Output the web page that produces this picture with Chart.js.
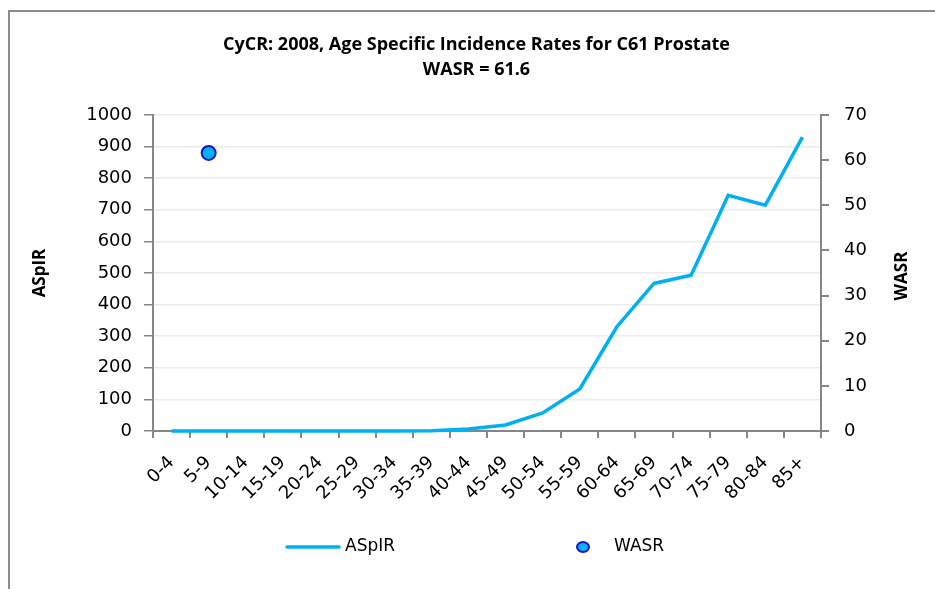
<!DOCTYPE html>
<html>
<head>
<meta charset="utf-8">
<script src="https://cdn.jsdelivr.net/npm/chart.js@4"></script>
<style>
    html, body { margin: 0; padding: 0; background: #fff; }
    #wrap { width: 935px; height: 589px; }
</style>
</head>
<body>
<div id="wrap"><canvas id="chart" width="935" height="589"></canvas></div>
<script>
// Data
const ageGroups = ['0-4', '5-9', '10-14', '15-19', '20-24', '25-29', '30-34', '35-39', '40-44',
    '45-49', '50-54', '55-59', '60-64', '65-69', '70-74', '75-79', '80-84', '85+'];
const aspirValues = [0, 0, 0, 0, 0, 0, 0, 0.5, 6, 19, 57, 133, 330, 467, 493, 746, 715, 930];
const wasrValue = 61.6;
const wasrGroup = '5-9';
const titleLines = ['CyCR: 2008, Age Specific Incidence Rates for C61 Prostate', 'WASR = ' + wasrValue];

const AXIS_GREY = '#868686';
const LINE_BLUE = '#00b0f0';
const POINT_EDGE = '#1515c8';

const tickFont = { family: 'DejaVu Sans', size: 18 };
const xTickFont = { family: 'DejaVu Sans', size: 18 };
const boldFont = { family: 'Open Sans', size: 17, weight: 'bold' };

// frame, custom legend and the right-hand axis title (reads bottom-to-top)
const decorations = {
    id: 'decorations',
    beforeDraw(chart) {
        const ctx = chart.ctx;
        ctx.save();
        ctx.strokeStyle = '#8c8c8c';
        ctx.lineWidth = 2;
        ctx.beginPath();
        ctx.moveTo(9, 600);
        ctx.lineTo(9, 11);
        ctx.lineTo(940, 11);
        ctx.stroke();
        ctx.restore();
    },
    afterDraw(chart) {
        const ctx = chart.ctx;
        const ds = chart.data.datasets;
        ctx.save();
        ctx.font = '17px "DejaVu Sans"';
        ctx.fillStyle = '#000';
        ctx.textBaseline = 'middle';

        const ly = 547;
        ctx.strokeStyle = ds[0].borderColor;
        ctx.lineWidth = 3.5;
        ctx.lineCap = 'round';
        ctx.beginPath();
        ctx.moveTo(287, ly);
        ctx.lineTo(339, ly);
        ctx.stroke();
        ctx.fillText(ds[0].label, 345, ly);

        ctx.beginPath();
        ctx.ellipse(583, ly, 6, 5, 0, 0, Math.PI * 2);
        ctx.fillStyle = ds[1].backgroundColor;
        ctx.fill();
        ctx.lineWidth = 2;
        ctx.strokeStyle = ds[1].borderColor;
        ctx.stroke();
        ctx.fillStyle = '#000';
        ctx.fillText(ds[1].label, 614, ly);

        ctx.translate(902, 276);
        ctx.rotate(-Math.PI / 2);
        ctx.font = 'bold 17px "Open Sans"';
        ctx.textAlign = 'center';
        ctx.fillText('WASR', 0, 0);
        ctx.restore();
    }
};

const plain = v => String(v);

new Chart(document.getElementById('chart'), {
    type: 'line',
    data: {
        labels: ageGroups,
        datasets: [
            {
                label: 'ASpIR',
                data: aspirValues,
                yAxisID: 'y',
                borderColor: LINE_BLUE,
                borderWidth: 3.5,
                pointRadius: 0,
                tension: 0,
                clip: 6
            },
            {
                label: 'WASR',
                data: [{ x: wasrGroup, y: wasrValue }],
                yAxisID: 'y2',
                showLine: false,
                backgroundColor: LINE_BLUE,
                borderColor: POINT_EDGE,
                pointRadius: 7,
                pointBorderWidth: 2,
                clip: false
            }
        ]
    },
    options: {
        responsive: false,
        animation: false,
        layout: { padding: { left: 18 } },
        plugins: {
            legend: { display: false },
            tooltip: { enabled: false },
            title: {
                display: true,
                text: titleLines,
                color: '#000',
                font: { family: 'Open Sans', size: 18, weight: 'bold', lineHeight: 1.39 },
                padding: { top: 32, bottom: 33 }
            }
        },
        scales: {
            x: {
                offset: true,
                grid: { offset: true, drawOnChartArea: false, tickLength: 7, tickColor: AXIS_GREY, lineWidth: 2 },
                border: { color: AXIS_GREY, width: 2 },
                ticks: { autoSkip: false, minRotation: 45, maxRotation: 45, padding: 14, color: '#000', font: xTickFont },
                afterFit(scale) { scale.height = 158; }
            },
            y: {
                position: 'left',
                min: 0,
                max: 1000,
                grid: { color: '#ececec', lineWidth: 1.5, tickColor: AXIS_GREY, tickLength: 9 },
                border: { color: AXIS_GREY, width: 2 },
                ticks: { stepSize: 100, padding: 12, color: '#000', font: tickFont, callback: plain },
                title: { display: true, text: 'ASpIR', color: '#000', font: boldFont, padding: { top: 12, bottom: 0 } },
                afterFit(scale) { scale.width = 135; }
            },
            y2: {
                position: 'right',
                min: 0,
                max: 70,
                grid: { drawOnChartArea: false, tickColor: AXIS_GREY, tickLength: 8, lineWidth: 2 },
                border: { color: AXIS_GREY, width: 2 },
                ticks: { stepSize: 10, padding: 15, color: '#000', font: tickFont, callback: plain },
                afterFit(scale) { scale.width = 114; }
            }
        }
    },
    plugins: [decorations]
});
</script>
</body>
</html>
